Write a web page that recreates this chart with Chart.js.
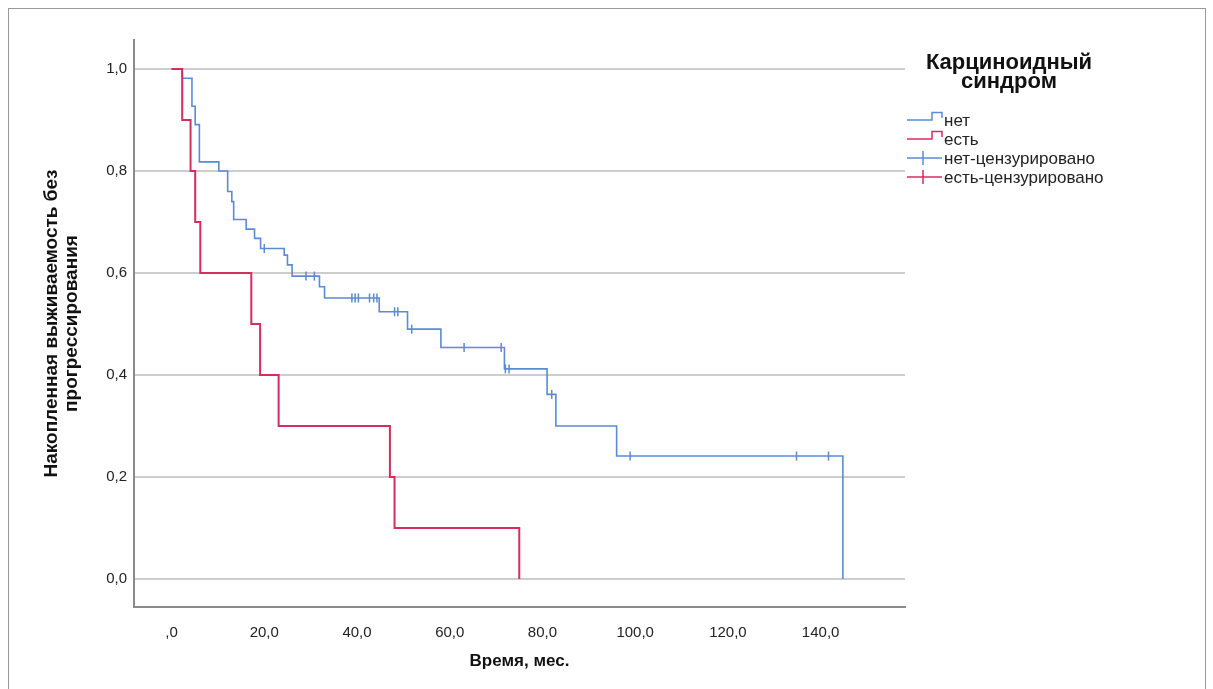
<!DOCTYPE html>
<html>
<head>
<meta charset="utf-8">
<script src="https://cdn.jsdelivr.net/npm/chart.js@4.4.1/dist/chart.umd.min.js"></script>
<style>
    html, body { margin: 0; padding: 0; background: #fff; }
    #wrap { position: relative; width: 1213px; height: 689px; overflow: hidden; }
    #frame { position: absolute; left: 8px; top: 8px; width: 1196px; height: 720px; border: 1px solid #9a9a9a; }
    canvas { position: absolute; left: 0; top: 0; }
</style>
</head>
<body>
<div id="wrap">
    <div id="frame"></div>
    <canvas id="kmChart" width="1213" height="689"></canvas>
</div>
<script>
// Kaplan-Meier steps: time (months) and cumulative survival after each event
const noTimes  = [0, 2.3, 4.4, 5.1, 6.0, 10.2, 12.1, 13.0, 13.4, 16.1, 17.9, 19.2, 24.3, 25.0, 26.0, 31.9, 33.0, 44.8, 50.9, 58.1, 71.8, 81.0, 82.9, 96.0, 144.8];
const noSurv   = [1, 0.982, 0.927, 0.891, 0.818, 0.80, 0.76, 0.74, 0.705, 0.686, 0.668, 0.648, 0.635, 0.616, 0.594, 0.573, 0.551, 0.524, 0.49, 0.454, 0.412, 0.362, 0.30, 0.241, 0];
const noCensored = [20.0, 29.0, 30.8, 38.9, 39.6, 40.3, 42.7, 43.6, 44.3, 48.1, 48.8, 51.8, 63.1, 71.1, 72.0, 72.8, 82.0, 98.9, 134.8, 141.7];

const yesTimes = [0, 2.3, 4.1, 5.1, 6.2, 17.2, 19.1, 23.1, 47.1, 48.1, 75.0];
const yesSurv  = [1, 0.9, 0.8, 0.7, 0.6, 0.5, 0.4, 0.3, 0.2, 0.1, 0];
const yesCensored = [];

const xTickValues = [0, 20, 40, 60, 80, 100, 120, 140];
const yTickValues = [0, 0.2, 0.4, 0.6, 0.8, 1.0];

const legendTitle = ['Карциноидный', 'синдром'];
const legendLabels = ['нет', 'есть', 'нет-цензурировано', 'есть-цензурировано'];

const BLUE = '#5b8bd3';
const RED = '#d62d5f';
const FONT = '"Liberation Sans", Arial, sans-serif';

function stepValue(times, surv, t) {
    let idx = 0;
    for (let i = 0; i < times.length; i++) {
        if (times[i] <= t) idx = i;
    }
    return surv[idx];
}

function toPoints(times, surv) {
    return times.map((t, i) => ({ x: t, y: surv[i] }));
}

function censorPoints(list, times, surv) {
    return list.map(t => ({ x: t, y: stepValue(times, surv, t) }));
}

function commaNum(v) {
    return v.toFixed(1).replace('.', ',');
}

// legend on the right: title plus step and censor glyphs
const legendPlugin = {
    id: 'kmLegend',
    afterDraw(chart) {
        const ctx = chart.ctx;
        ctx.save();
        ctx.fillStyle = '#111';
        ctx.textAlign = 'center';
        ctx.textBaseline = 'middle';
        ctx.font = 'bold 22px ' + FONT;
        ctx.fillText(legendTitle[0], 1009, 63);
        ctx.fillText(legendTitle[1], 1009, 82);

        const rows = [120, 139, 158, 177];
        const colors = [BLUE, RED, BLUE, RED];
        ctx.font = '17px ' + FONT;
        ctx.textAlign = 'left';
        rows.forEach((y, i) => {
            ctx.strokeStyle = colors[i];
            ctx.lineWidth = 1.5;
            ctx.beginPath();
            if (i < 2) {
                ctx.moveTo(907, y);
                ctx.lineTo(932, y);
                ctx.lineTo(932, y - 7.5);
                ctx.lineTo(942, y - 7.5);
                ctx.lineTo(942, y - 2);
            } else {
                ctx.moveTo(907, y);
                ctx.lineTo(942, y);
                ctx.moveTo(923, y - 7);
                ctx.lineTo(923, y + 7);
            }
            ctx.stroke();
            ctx.fillStyle = '#222';
            ctx.fillText(legendLabels[i], 944, y + 1);
        });
        ctx.restore();
    }
};

const ctx = document.getElementById('kmChart').getContext('2d');
const kmChart = new Chart(ctx, {
    type: 'line',
    data: {
        datasets: [
            {
                label: 'есть',
                data: toPoints(yesTimes, yesSurv),
                stepped: 'before',
                borderColor: RED,
                borderWidth: 2,
                pointRadius: 0,
                fill: false,
                order: 1
            },
            {
                label: 'нет',
                data: toPoints(noTimes, noSurv),
                stepped: 'before',
                borderColor: BLUE,
                borderWidth: 1.6,
                pointRadius: 0,
                fill: false,
                order: 2
            },
            {
                label: 'нет-цензурировано',
                data: censorPoints(noCensored, noTimes, noSurv),
                showLine: false,
                pointStyle: 'line',
                rotation: 90,
                pointRadius: 4.5,
                pointBorderWidth: 1.5,
                borderColor: BLUE,
                order: 0
            },
            {
                label: 'есть-цензурировано',
                data: censorPoints(yesCensored, yesTimes, yesSurv),
                showLine: false,
                pointStyle: 'line',
                rotation: 90,
                pointRadius: 4.5,
                pointBorderWidth: 1.5,
                borderColor: RED,
                order: 0
            }
        ]
    },
    options: {
        responsive: false,
        animation: false,
        events: [],
        layout: { padding: { top: 40, right: 308, bottom: 0, left: 0 } },
        plugins: {
            legend: { display: false },
            tooltip: { enabled: false }
        },
        scales: {
            x: {
                type: 'linear',
                min: -8.1,
                max: 158.2,
                afterBuildTicks: scale => { scale.ticks = xTickValues.map(v => ({ value: v })); },
                afterFit: scale => { scale.height = 82; },
                ticks: {
                    color: '#222',
                    font: { family: FONT, size: 15 },
                    padding: 9,
                    maxRotation: 0,
                    callback: v => (v === 0 ? ',0' : commaNum(v))
                },
                grid: { display: false },
                border: { display: true, color: '#8a8a8a', width: 2 },
                title: {
                    display: true,
                    text: 'Время, мес.',
                    color: '#111',
                    font: { family: FONT, size: 17, weight: 'bold' },
                    padding: { top: 0, bottom: 17 }
                }
            },
            y: {
                type: 'linear',
                min: -0.055,
                max: 1.057,
                afterBuildTicks: scale => { scale.ticks = yTickValues.map(v => ({ value: v })); },
                afterFit: scale => { scale.width = 134; },
                ticks: {
                    color: '#222',
                    font: { family: FONT, size: 15 },
                    padding: 7,
                    callback: v => commaNum(v)
                },
                grid: { display: true, drawTicks: false, color: '#cdcdcd', lineWidth: 2 },
                border: { display: true, color: '#8a8a8a', width: 2 },
                title: {
                    display: true,
                    text: ['Накопленная выживаемость без', 'прогрессирования'],
                    color: '#111',
                    font: { family: FONT, size: 19, weight: 'bold', lineHeight: 1.05 },
                    padding: { top: 42, bottom: 0 }
                }
            }
        }
    },
    plugins: [legendPlugin]
});
</script>
</body>
</html>
